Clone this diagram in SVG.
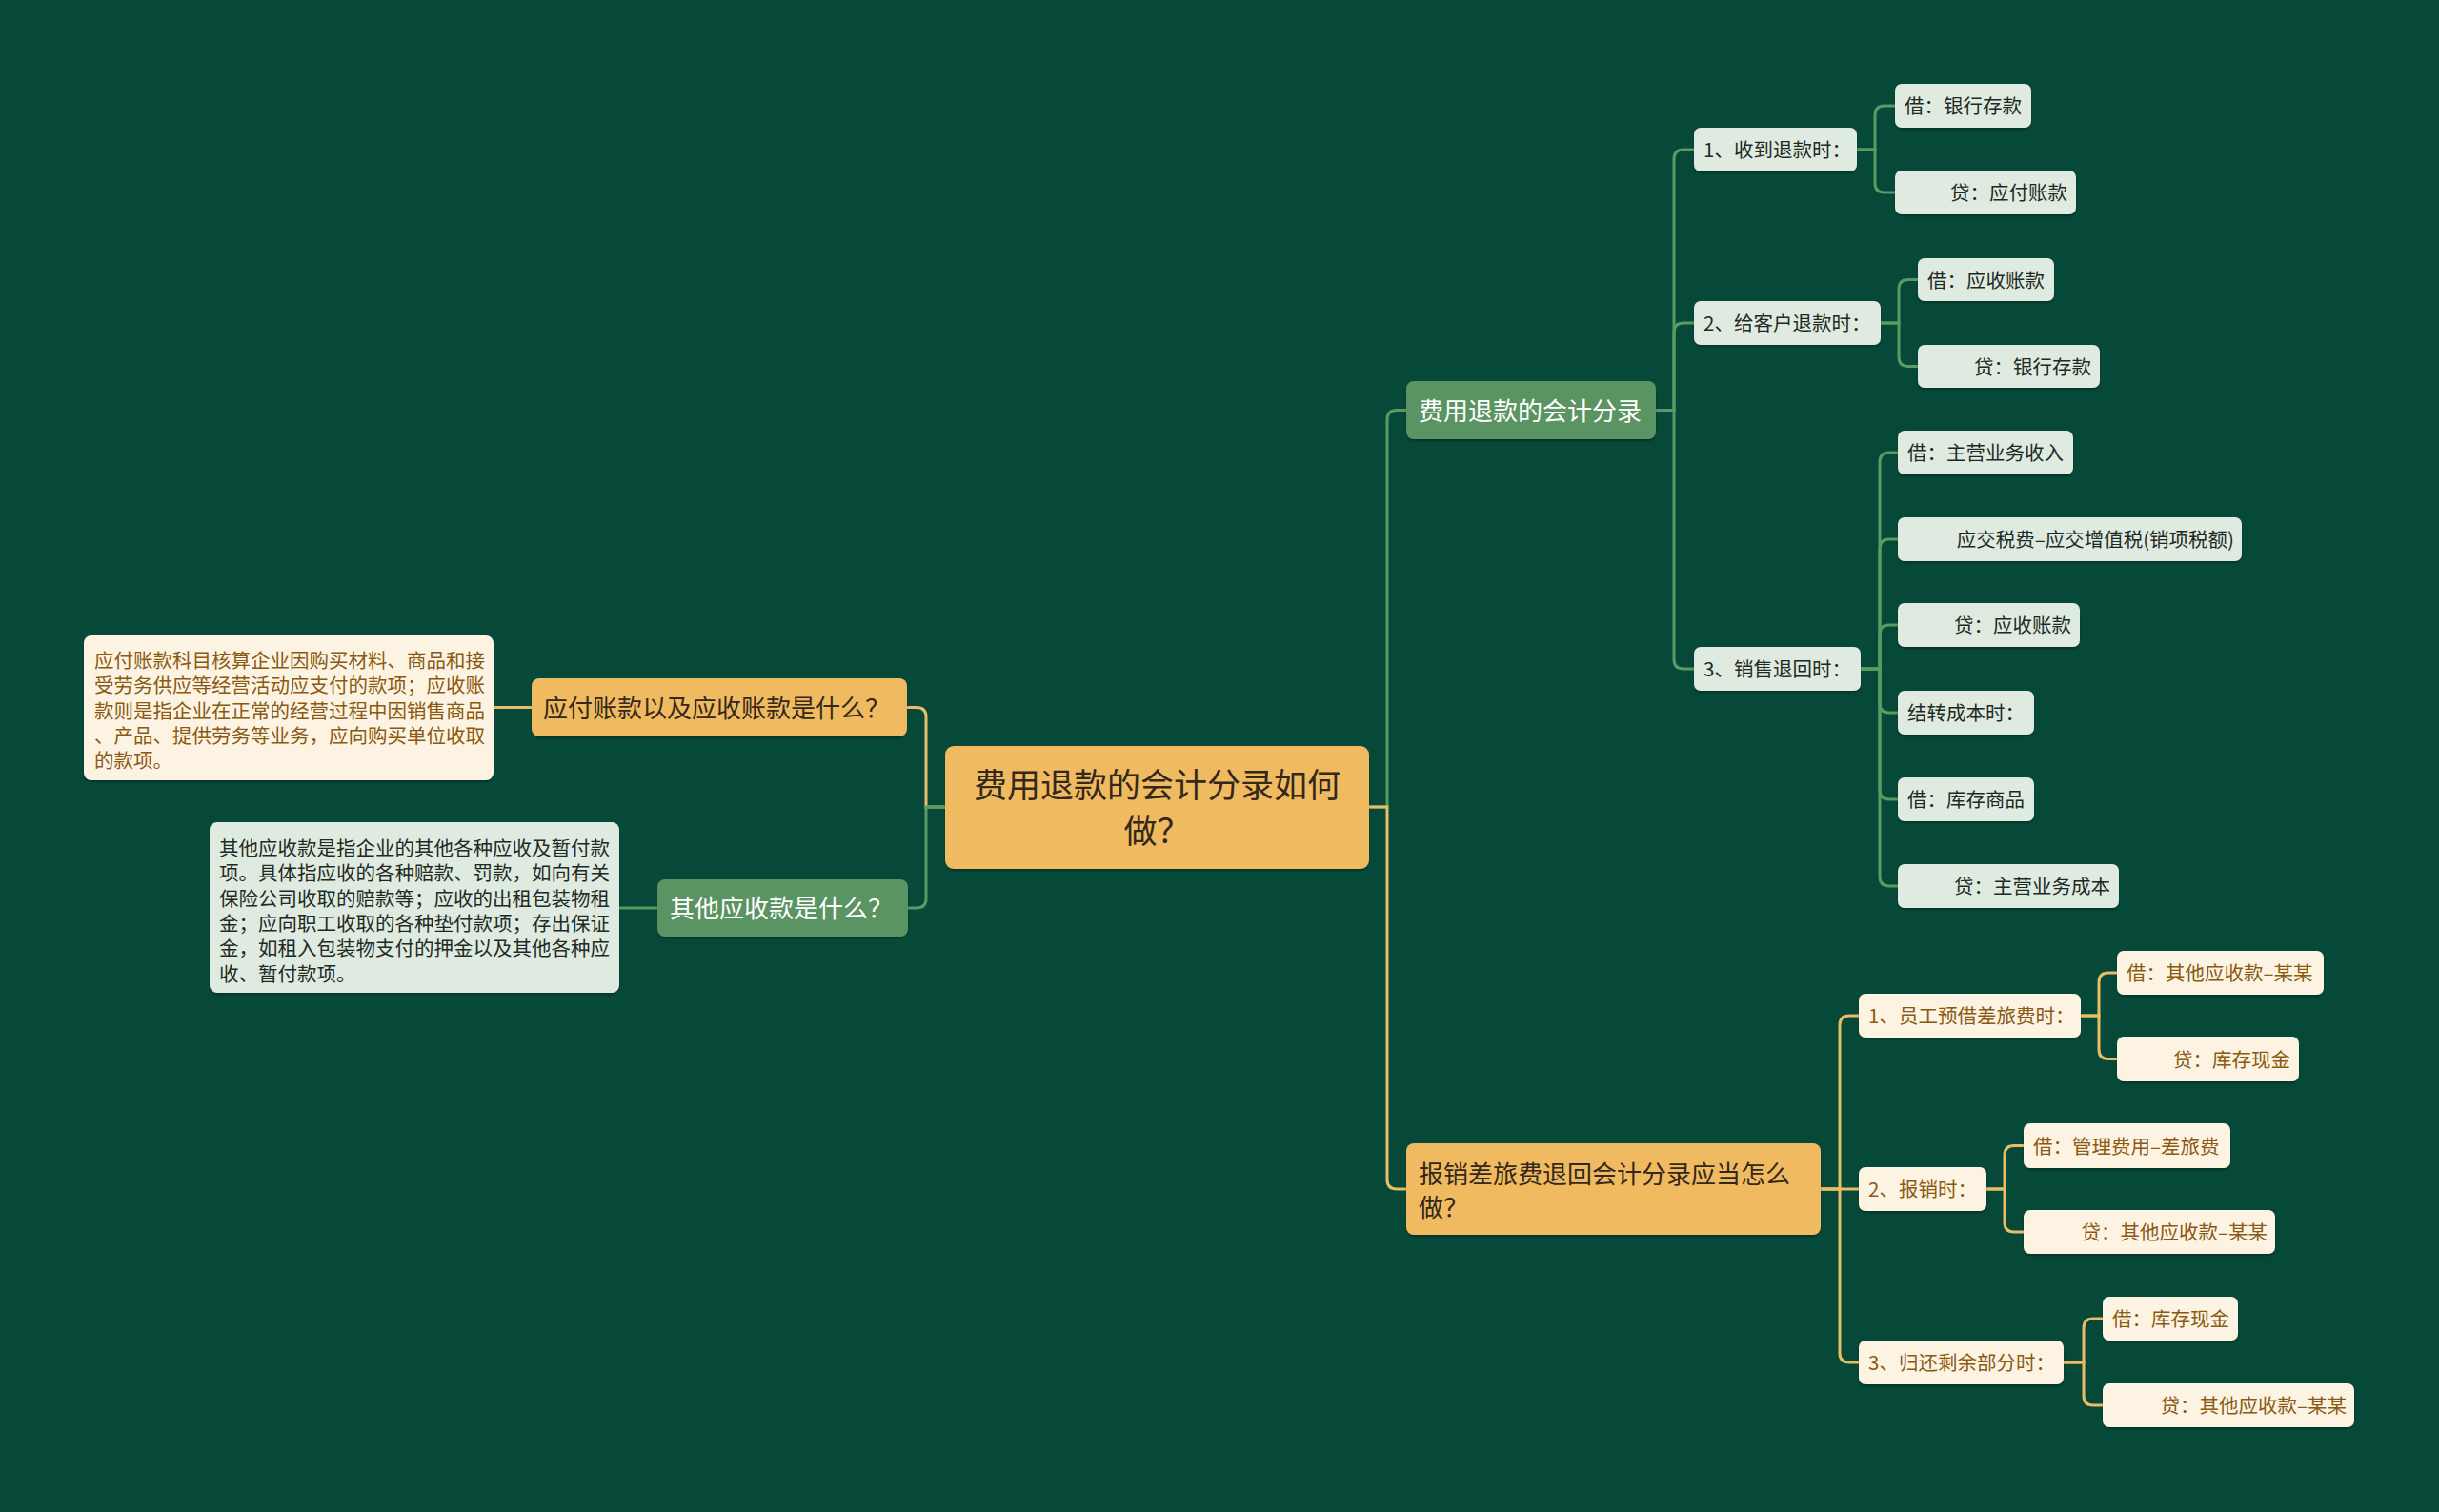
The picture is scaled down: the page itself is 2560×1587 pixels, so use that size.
<svg xmlns="http://www.w3.org/2000/svg" width="2560" height="1587" viewBox="0 0 2560 1587">
<defs>
<filter id="sh" x="-5%" y="-10%" width="110%" height="130%">
<feDropShadow dx="0" dy="2" stdDeviation="1" flood-color="#000" flood-opacity="0.3"/>
</filter>
<style>
text{font-family:"Noto Sans CJK SC","Noto Sans",sans-serif;}
.ey{stroke:#e9bd66;stroke-width:3;fill:none;}
.eg{stroke:#5a9a63;stroke-width:3;fill:none;}
.ny{fill:#efba60;filter:url(#sh);}
.ng{fill:#5a9462;filter:url(#sh);}
.nl{fill:#dfeae1;filter:url(#sh);}
.nc{fill:#fdf3e3;filter:url(#sh);}
.t0{font-size:35px;fill:#33281a;text-anchor:middle;}
.ty{font-size:26px;fill:#33281a;}
.tg{font-size:26px;fill:#ffffff;}
.tl{font-size:20.5px;fill:#1e2a22;}
.tc{font-size:20.5px;fill:#8a5a12;}
.end{text-anchor:end;}
</style>
</defs>
<rect x="0" y="0" width="2560" height="1587" fill="#074939"/>

<g id="connectors">
<path class="ey" d="M992,847 H972 V752.5 Q972,742.5 962,742.5 H952"/>
<path class="eg" d="M992,847 H972 V943 Q972,953 962,953 H953"/>
<path class="ey" d="M558,742.5 H518"/>
<path class="eg" d="M690,953 H650"/>
<path class="eg" d="M1437,847 H1456 V440.5 Q1456,430.5 1466,430.5 H1476"/>
<path class="ey" d="M1437,847 H1456 V1238 Q1456,1248 1466,1248 H1476"/>
<path class="eg" d="M1738,430.5 H1757 V167 Q1757,157 1767,157 H1778"/>
<path class="eg" d="M1738,430.5 H1757 V349 Q1757,339 1767,339 H1778"/>
<path class="eg" d="M1738,430.5 H1757 V692 Q1757,702 1767,702 H1778"/>
<path class="eg" d="M1949,157 H1968 V121 Q1968,111 1978,111 H1989"/>
<path class="eg" d="M1949,157 H1968 V192 Q1968,202 1978,202 H1989"/>
<path class="eg" d="M1974,339 H1993 V303.5 Q1993,293.5 2003,293.5 H2013"/>
<path class="eg" d="M1974,339 H1993 V374.5 Q1993,384.5 2003,384.5 H2013"/>
<path class="eg" d="M1953,702 H1973 V485 Q1973,475 1983,475 H1992"/>
<path class="eg" d="M1953,702 H1973 V576 Q1973,566 1983,566 H1992"/>
<path class="eg" d="M1953,702 H1973 V666 Q1973,656 1983,656 H1992"/>
<path class="eg" d="M1953,702 H1973 V738 Q1973,748 1983,748 H1992"/>
<path class="eg" d="M1953,702 H1973 V829 Q1973,839 1983,839 H1992"/>
<path class="eg" d="M1953,702 H1973 V920 Q1973,930 1983,930 H1992"/>
<path class="ey" d="M1911,1248 H1931 V1076 Q1931,1066 1941,1066 H1951"/>
<path class="ey" d="M1911,1248 H1951"/>
<path class="ey" d="M1911,1248 H1931 V1420 Q1931,1430 1941,1430 H1951"/>
<path class="ey" d="M2184,1066 H2203 V1031 Q2203,1021 2213,1021 H2222"/>
<path class="ey" d="M2184,1066 H2203 V1101.5 Q2203,1111.5 2213,1111.5 H2222"/>
<path class="ey" d="M2085,1248 H2104 V1212.5 Q2104,1202.5 2114,1202.5 H2124"/>
<path class="ey" d="M2085,1248 H2104 V1283 Q2104,1293 2114,1293 H2124"/>
<path class="ey" d="M2166,1430 H2187 V1394 Q2187,1384 2197,1384 H2207"/>
<path class="ey" d="M2166,1430 H2187 V1465 Q2187,1475 2197,1475 H2207"/>
</g>

<g id="root">
<rect class="ny" x="992" y="783" width="445" height="129" rx="9"/>
<text class="t0" x="1214.5" y="837">费用退款的会计分录如何</text>
<text class="t0" x="1214.5" y="885">做？</text>
</g>

<g id="n-yingfu">
<rect class="ny" x="558" y="712" width="394" height="61" rx="8"/>
<text class="ty" x="570" y="752.5">应付账款以及应收账款是什么？</text>
</g>
<g id="n-yingfu-desc">
<rect class="nc" x="88" y="667" width="430" height="152" rx="8"/>
<text class="tc" x="99" y="701">应付账款科目核算企业因购买材料、商品和接</text>
<text class="tc" x="99" y="727.25">受劳务供应等经营活动应支付的款项；应收账</text>
<text class="tc" x="99" y="753.5">款则是指企业在正常的经营过程中因销售商品</text>
<text class="tc" x="99" y="779.75">、产品、提供劳务等业务，应向购买单位收取</text>
<text class="tc" x="99" y="806">的款项。</text>
</g>

<g id="n-qita">
<rect class="ng" x="690" y="923" width="263" height="60" rx="8"/>
<text class="tg" x="703" y="963">其他应收款是什么？</text>
</g>
<g id="n-qita-desc">
<rect class="nl" x="220" y="863" width="430" height="179" rx="8"/>
<text class="tl" x="230" y="898">其他应收款是指企业的其他各种应收及暂付款</text>
<text class="tl" x="230" y="924.3">项。具体指应收的各种赔款、罚款，如向有关</text>
<text class="tl" x="230" y="950.6">保险公司收取的赔款等；应收的出租包装物租</text>
<text class="tl" x="230" y="976.9">金；应向职工收取的各种垫付款项；存出保证</text>
<text class="tl" x="230" y="1003.2">金，如租入包装物支付的押金以及其他各种应</text>
<text class="tl" x="230" y="1029.5">收、暂付款项。</text>
</g>

<g id="n-feiyong">
<rect class="ng" x="1476" y="400" width="262" height="61" rx="8"/>
<text class="tg" x="1489" y="440.5">费用退款的会计分录</text>
</g>

<g id="n-a1">
<rect class="nl" x="1778" y="134" width="171" height="46" rx="7"/>
<text class="tl" x="1788" y="165">1、收到退款时：</text>
</g>
<g id="n-a1-1">
<rect class="nl" x="1989" y="88" width="143" height="46" rx="7"/>
<text class="tl" x="1999" y="119">借：银行存款</text>
</g>
<g id="n-a1-2">
<rect class="nl" x="1989" y="179" width="190" height="46" rx="7"/>
<text class="tl end" x="2170" y="210">贷：应付账款</text>
</g>

<g id="n-a2">
<rect class="nl" x="1778" y="316" width="196" height="46" rx="7"/>
<text class="tl" x="1788" y="347">2、给客户退款时：</text>
</g>
<g id="n-a2-1">
<rect class="nl" x="2013" y="271" width="143" height="45" rx="7"/>
<text class="tl" x="2023" y="301.5">借：应收账款</text>
</g>
<g id="n-a2-2">
<rect class="nl" x="2013" y="362" width="191" height="45" rx="7"/>
<text class="tl end" x="2195" y="392.5">贷：银行存款</text>
</g>

<g id="n-a3">
<rect class="nl" x="1778" y="679" width="175" height="46" rx="7"/>
<text class="tl" x="1788" y="710">3、销售退回时：</text>
</g>
<g id="n-a3-1">
<rect class="nl" x="1992" y="452" width="184" height="46" rx="7"/>
<text class="tl" x="2002" y="483">借：主营业务收入</text>
</g>
<g id="n-a3-2">
<rect class="nl" x="1992" y="543" width="361" height="46" rx="7"/>
<text class="tl end" x="2345" y="574">应交税费–应交增值税(销项税额)</text>
</g>
<g id="n-a3-3">
<rect class="nl" x="1992" y="633" width="191" height="46" rx="7"/>
<text class="tl end" x="2174" y="664">贷：应收账款</text>
</g>
<g id="n-a3-4">
<rect class="nl" x="1992" y="725" width="143" height="46" rx="7"/>
<text class="tl" x="2002" y="756">结转成本时：</text>
</g>
<g id="n-a3-5">
<rect class="nl" x="1992" y="816" width="143" height="46" rx="7"/>
<text class="tl" x="2002" y="847">借：库存商品</text>
</g>
<g id="n-a3-6">
<rect class="nl" x="1992" y="907" width="232" height="46" rx="7"/>
<text class="tl end" x="2215" y="938">贷：主营业务成本</text>
</g>

<g id="n-baoxiao">
<rect class="ny" x="1476" y="1200" width="435" height="96" rx="8"/>
<text class="ty" x="1489" y="1242">报销差旅费退回会计分录应当怎么</text>
<text class="ty" x="1489" y="1277">做？</text>
</g>

<g id="n-b1">
<rect class="nc" x="1951" y="1043" width="233" height="46" rx="7"/>
<text class="tc" x="1961" y="1074">1、员工预借差旅费时：</text>
</g>
<g id="n-b1-1">
<rect class="nc" x="2222" y="998" width="217" height="46" rx="7"/>
<text class="tc" x="2232" y="1029">借：其他应收款–某某</text>
</g>
<g id="n-b1-2">
<rect class="nc" x="2222" y="1088" width="191" height="47" rx="7"/>
<text class="tc end" x="2404" y="1119.5">贷：库存现金</text>
</g>

<g id="n-b2">
<rect class="nc" x="1951" y="1225" width="134" height="46" rx="7"/>
<text class="tc" x="1961" y="1256">2、报销时：</text>
</g>
<g id="n-b2-1">
<rect class="nc" x="2124" y="1179" width="217" height="47" rx="7"/>
<text class="tc" x="2134" y="1210.5">借：管理费用–差旅费</text>
</g>
<g id="n-b2-2">
<rect class="nc" x="2124" y="1270" width="264" height="46" rx="7"/>
<text class="tc end" x="2380" y="1301">贷：其他应收款–某某</text>
</g>

<g id="n-b3">
<rect class="nc" x="1951" y="1407" width="215" height="46" rx="7"/>
<text class="tc" x="1961" y="1438">3、归还剩余部分时：</text>
</g>
<g id="n-b3-1">
<rect class="nc" x="2207" y="1361" width="142" height="46" rx="7"/>
<text class="tc" x="2217" y="1392">借：库存现金</text>
</g>
<g id="n-b3-2">
<rect class="nc" x="2207" y="1452" width="264" height="46" rx="7"/>
<text class="tc end" x="2463" y="1483">贷：其他应收款–某某</text>
</g>
</svg>
